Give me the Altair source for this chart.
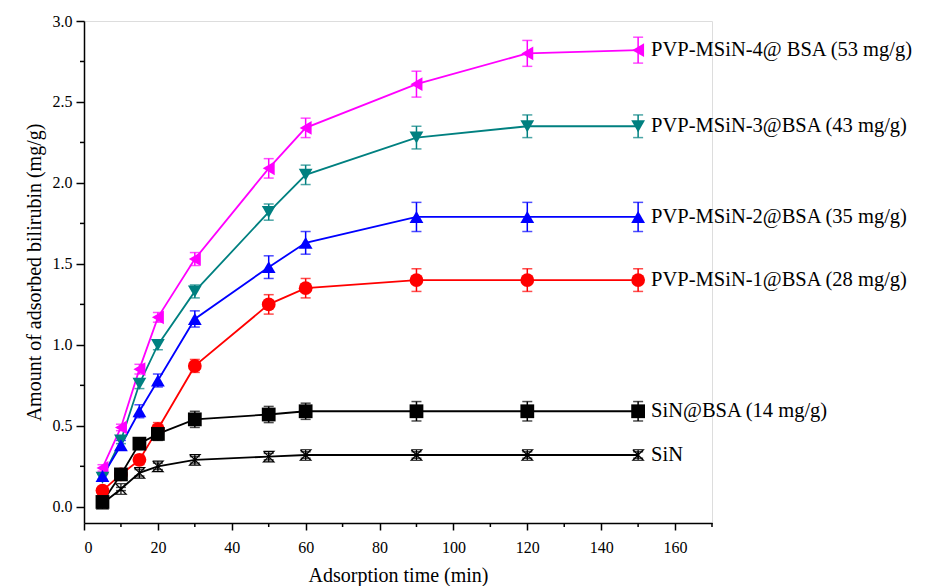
import altair as alt
import pandas as pd

time_min = [5, 10, 15, 20, 30, 50, 60, 90, 120, 150]

labels = [
    "PVP-MSiN-4@ BSA (53 mg/g)",
    "PVP-MSiN-3@BSA (43 mg/g)",
    "PVP-MSiN-2@BSA (35 mg/g)",
    "PVP-MSiN-1@BSA (28 mg/g)",
    "SiN@BSA (14 mg/g)",
    "SiN",
]
colors = ["#FF00FF", "#008080", "#0000FF", "#FF0000", "#000000", "#000000"]
shapes = ["triangle-left", "triangle-down", "triangle-up", "circle", "square",
          "M-1,-1H1L-1,1H1L-1,-1M0,-1V1"]
marker_sizes = [190, 190, 190, 150, 120, 110]

pvp4 = [0.24, 0.49, 0.85, 1.17, 1.53, 2.09, 2.34, 2.61, 2.80, 2.82]
pvp4_err = [0.02, 0.02, 0.03, 0.03, 0.04, 0.06, 0.06, 0.08, 0.08, 0.08]
pvp3 = [0.18, 0.41, 0.76, 1.00, 1.33, 1.82, 2.05, 2.28, 2.35, 2.35]
pvp3_err = [0.02, 0.02, 0.03, 0.03, 0.04, 0.05, 0.06, 0.07, 0.07, 0.07]
pvp2 = [0.19, 0.38, 0.59, 0.78, 1.16, 1.48, 1.63, 1.79, 1.79, 1.79]
pvp2_err = [0.02, 0.03, 0.04, 0.04, 0.05, 0.07, 0.07, 0.09, 0.09, 0.09]
pvp1 = [0.10, 0.20, 0.29, 0.48, 0.87, 1.25, 1.35, 1.40, 1.40, 1.40]
pvp1_err = [0.02, 0.03, 0.03, 0.04, 0.04, 0.06, 0.06, 0.07, 0.07, 0.07]
sinbsa = [0.03, 0.20, 0.39, 0.45, 0.54, 0.57, 0.59, 0.59, 0.59, 0.59]
sinbsa_err = [0.02, 0.03, 0.03, 0.04, 0.05, 0.05, 0.05, 0.06, 0.06, 0.06]
sin = [0.02, 0.11, 0.21, 0.25, 0.29, 0.31, 0.32, 0.32, 0.32, 0.32]
sin_err = [0.01, 0.01, 0.02, 0.02, 0.02, 0.02, 0.02, 0.02, 0.02, 0.02]

values = [pvp4, pvp3, pvp2, pvp1, sinbsa, sin]
errors = [pvp4_err, pvp3_err, pvp2_err, pvp1_err, sinbsa_err, sin_err]

x_major = [0, 20, 40, 60, 80, 100, 120, 140, 160]
x_minor = [10, 30, 50, 70, 90, 110, 130, 150, 170]
y_major = [0.0, 0.5, 1.0, 1.5, 2.0, 2.5, 3.0]
y_minor = [0.25, 0.75, 1.25, 1.75, 2.25, 2.75]

rows = []
for name, vals, errs in zip(labels, values, errors):
    for t, v, e in zip(time_min, vals, errs):
        rows.append({"series": name, "time": t, "value": v, "lo": v - e, "hi": v + e})
df = pd.DataFrame(rows)
last = df[df["time"] == time_min[-1]]
xminor_df = pd.DataFrame({"t": x_minor})
yminor_df = pd.DataFrame({"v": y_minor})

FONT = "'Liberation Serif', 'Times New Roman', serif"
W, H = 628, 502
xs = alt.Scale(domain=[0, 170], nice=False, zero=False)
ys = alt.Scale(domain=[-0.1, 3.0], nice=False, zero=False)
cs = alt.Scale(domain=labels, range=colors)
ss = alt.Scale(domain=labels, range=shapes)
zs = alt.Scale(domain=labels, range=marker_sizes)

x_axis = alt.Axis(values=x_major, format="d", tickSize=7, tickWidth=1.5, domainWidth=1.5,
                  domainColor="black", tickColor="black", labelFont=FONT, labelFontSize=16,
                  labelColor="black", labelPadding=9, grid=False, title="Adsorption time (min)",
                  titleFont=FONT, titleFontSize=20, titleFontWeight="normal", titleColor="black",
                  titlePadding=10)
y_axis = alt.Axis(values=y_major, format=".1f", tickSize=8, tickWidth=1.5, domainWidth=1.5,
                  domainColor="black", tickColor="black", labelFont=FONT, labelFontSize=16,
                  labelColor="black", labelPadding=4, grid=False,
                  title="Amount of adsorbed bilirubin (mg/g)", titleFont=FONT, titleFontSize=20,
                  titleFontWeight="normal", titleColor="black", titlePadding=8)

base = alt.Chart(df)

lines = base.mark_line(strokeWidth=1.8).encode(
    x=alt.X("time:Q", scale=xs, axis=x_axis),
    y=alt.Y("value:Q", scale=ys, axis=y_axis),
    color=alt.Color("series:N", scale=cs, legend=None),
    detail="series:N",
)

x_minor_ticks = alt.Chart(xminor_df).mark_rule(color="black", strokeWidth=1.5).encode(
    x=alt.X("t:Q", scale=xs), y=alt.value(H), y2=alt.value(H + 4))
y_minor_ticks = alt.Chart(yminor_df).mark_rule(color="black", strokeWidth=1.5).encode(
    y=alt.Y("v:Q", scale=ys), x=alt.value(0), x2=alt.value(-4))

err_rule = base.mark_rule(strokeWidth=1.5).encode(
    x="time:Q", y="lo:Q", y2="hi:Q",
    color=alt.Color("series:N", scale=cs, legend=None),
)
cap_lo = base.mark_tick(orient="horizontal", size=10, thickness=1.5).encode(
    x="time:Q", y="lo:Q", color=alt.Color("series:N", scale=cs, legend=None))
cap_hi = base.mark_tick(orient="horizontal", size=10, thickness=1.5).encode(
    x="time:Q", y="hi:Q", color=alt.Color("series:N", scale=cs, legend=None))

filled_pts = base.transform_filter(alt.datum.series != "SiN").mark_point(
    filled=True, opacity=1).encode(
    x="time:Q", y="value:Q",
    color=alt.Color("series:N", scale=cs, legend=None),
    shape=alt.Shape("series:N", scale=ss, legend=None),
    size=alt.Size("series:N", scale=zs, legend=None),
)
open_pts = base.transform_filter(alt.datum.series == "SiN").mark_point(
    filled=False, size=110, strokeWidth=1.2, opacity=1, color="black",
    shape="M-1,-1H1L-1,1H1L-1,-1M0,-1V1").encode(
    x="time:Q", y="value:Q",
)

text = alt.Chart(last).mark_text(align="left", baseline="middle", dx=13, font=FONT,
                                 fontSize=20.5, color="black").encode(
    x="time:Q", y="value:Q", text="series:N")

chart = alt.layer(lines, x_minor_ticks, y_minor_ticks, err_rule, cap_lo, cap_hi,
                  filled_pts, open_pts, text).properties(
    width=W, height=H,
    autosize=alt.AutoSizeParams(type="none"),
    padding={"left": 84, "top": 21, "right": 218, "bottom": 63},
).configure_view(stroke=None).configure(background="white")

chart.save("out.html", embed_options={"renderer": "svg", "actions": False})
